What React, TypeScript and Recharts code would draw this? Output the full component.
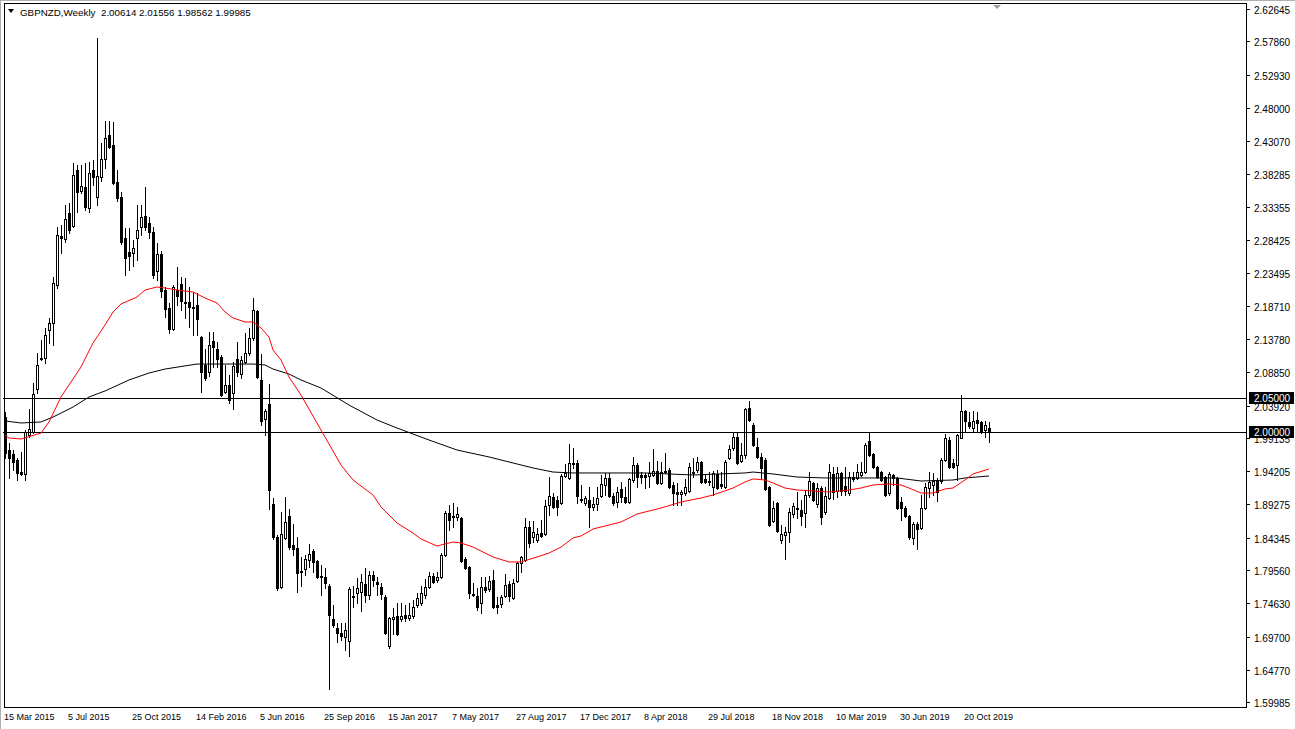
import React from 'react';
import { ComposedChart, Bar, Line, XAxis, YAxis, ReferenceLine } from 'recharts';

const FONT = "'Liberation Sans', Arial, sans-serif";

const opens = [
  2.0222,1.9734,1.9675,1.9586,1.9408,1.9379,1.9956,2.0000,2.0637,2.1081,
  2.1096,2.1511,2.1615,2.2177,2.2903,2.2859,2.3244,2.3051,2.3880,2.3569,
  2.3628,2.3318,2.3880,2.3480,2.3776,2.4043,2.4399,2.4251,2.3700,2.3480,
  2.2874,2.2666,2.2652,2.2874,2.3036,2.3199,2.3096,2.2963,2.2385,2.2637,
  2.2103,2.1837,2.1526,2.2103,2.2192,2.1925,2.1925,2.1852,2.1881,2.1407,
  2.0993,2.0889,2.1348,2.1230,2.1111,2.0593,2.0696,2.0578,2.1081,2.0859,
  2.1037,2.1170,2.1392,2.1792,2.0771,2.0193,2.0415,1.8934,1.8446,1.7706,
  1.8431,1.8756,1.8327,1.8283,1.7942,1.7972,1.8105,1.8238,1.8090,1.7868,
  1.7854,1.7721,1.7231,1.7098,1.7024,1.6965,1.6906,1.7572,1.7617,1.7632,
  1.7750,1.7587,1.7883,1.7780,1.7706,1.7557,1.6831,1.7231,1.7276,1.7231,
  1.7290,1.7246,1.7276,1.7438,1.7468,1.7587,1.7706,1.7868,1.7809,1.7854,
  1.8179,1.8801,1.8741,1.8741,1.8727,1.8120,1.8002,1.7602,1.7572,1.7468,
  1.7706,1.7676,1.7809,1.7438,1.7453,1.7572,1.7750,1.7543,1.7794,1.8061,
  1.8105,1.8594,1.8446,1.8401,1.8505,1.8490,1.8919,1.9038,1.8993,1.8949,
  1.9349,1.9320,1.9527,1.9542,1.9008,1.8949,1.8993,1.8890,1.8934,1.9053,
  1.9216,1.9320,1.9053,1.8964,1.9157,1.9038,1.8964,1.9290,1.9512,1.9364,
  1.9364,1.9349,1.9364,1.9423,1.9246,1.9408,1.9438,1.9216,1.9112,1.9082,
  1.9097,1.9127,1.9394,1.9438,1.9556,1.9305,1.9275,1.9186,1.9379,1.9231,
  1.9186,1.9616,1.9764,1.9926,1.9571,1.9660,2.0356,2.0105,1.9779,1.9631,
  1.9586,1.9186,1.8682,1.8949,1.8401,1.8475,1.8520,1.8786,1.8860,1.8845,
  1.8801,1.9068,1.9246,1.8934,1.9171,1.8816,1.9023,1.9379,1.9127,1.9394,
  1.9201,1.9097,1.9334,1.9320,1.9364,1.9408,1.9867,1.9675,1.9483,1.9408,
  1.9334,1.9097,1.9364,1.9320,1.8964,1.8875,1.8756,1.8431,1.8638,1.8579,
  1.8875,1.9171,1.9216,1.9275,1.9275,1.9586,1.9882,1.9542,1.9512,1.9911,
  2.0311,2.0149,2.0060,2.0178,2.0149,2.0030,2.00614,
];

const highs = [
  2.0296,1.9838,1.9734,1.9616,1.9704,2.0030,2.0341,2.0726,2.1170,2.1363,
  2.1541,2.1689,2.2295,2.3036,2.3066,2.3362,2.3392,2.3984,2.3954,2.3954,
  2.3984,2.3999,2.4028,2.5835,2.4280,2.4606,2.4606,2.4591,2.3880,2.3554,
  2.3021,2.3021,2.2844,2.3362,2.3362,2.3628,2.3185,2.3036,2.2800,2.2681,
  2.2148,2.1911,2.2177,2.2444,2.2295,2.2281,2.2148,2.2074,2.2059,2.1422,
  2.1230,2.1481,2.1481,2.1333,2.1141,2.0993,2.0845,2.1037,2.1333,2.1126,
  2.1467,2.1541,2.1985,2.1807,2.1156,2.0341,2.0711,1.9023,1.8475,1.8816,
  1.9038,1.8860,1.8638,1.8446,1.8150,1.8179,1.8342,1.8268,1.8105,1.8031,
  1.7987,1.7750,1.7438,1.7172,1.7172,1.7172,1.7706,1.7721,1.7839,1.7898,
  1.7987,1.7942,1.7942,1.7854,1.7765,1.7587,1.7261,1.7394,1.7468,1.7468,
  1.7438,1.7468,1.7513,1.7617,1.7721,1.7824,1.7928,1.7913,1.7928,1.8209,
  1.8830,1.8919,1.8949,1.8890,1.8741,1.8150,1.8016,1.7765,1.7691,1.7854,
  1.7854,1.7868,1.7957,1.7557,1.7587,1.7898,1.7794,1.7824,1.8076,1.8164,
  1.8727,1.8682,1.8682,1.8579,1.8697,1.8993,1.9334,1.9097,1.9053,1.9379,
  1.9527,1.9823,1.9764,1.9586,1.9216,1.9053,1.9186,1.9038,1.9186,1.9364,
  1.9394,1.9394,1.9097,1.9186,1.9260,1.9186,1.9320,1.9631,1.9542,1.9408,
  1.9394,1.9556,1.9749,1.9571,1.9556,1.9690,1.9468,1.9260,1.9246,1.9142,
  1.9305,1.9542,1.9616,1.9631,1.9571,1.9364,1.9408,1.9423,1.9438,1.9408,
  1.9586,1.9808,2.0000,2.0000,1.9838,2.0356,2.0459,2.0134,1.9911,1.9690,
  1.9616,1.9201,1.8978,1.8964,1.8623,1.8594,1.8875,1.8949,1.9112,1.8993,
  1.9142,1.9408,1.9260,1.9246,1.9201,1.9186,1.9527,1.9483,1.9483,1.9408,
  1.9483,1.9408,1.9408,1.9527,1.9556,1.9838,2.0000,1.9690,1.9497,1.9423,
  1.9349,1.9408,1.9379,1.9334,1.9038,1.8905,1.8771,1.8668,1.8668,1.9068,
  1.9246,1.9408,1.9394,1.9320,1.9616,1.9970,1.9926,1.9601,1.9970,2.0548,
  2.0326,2.0296,2.0311,2.0296,2.0164,2.0164,2.01556,
];

const lows = [
  1.9616,1.9320,1.9438,1.9290,1.9364,1.9290,1.9926,1.9985,2.0578,2.1067,
  2.1022,2.1319,2.1289,2.2133,2.2652,2.2814,2.2948,2.3036,2.3259,2.3540,
  2.3288,2.3259,2.3658,2.3362,2.3717,2.3910,2.4206,2.3673,2.3421,2.2785,
  2.2325,2.2399,2.2459,2.2548,2.2918,2.2992,2.2874,2.2281,2.2251,2.1999,
  2.1704,2.1467,2.1511,2.1881,2.1807,2.1689,2.1555,2.1437,2.1437,2.0593,
  2.0771,2.0830,2.0963,2.0963,2.0534,2.0578,2.0430,2.0341,2.0830,2.0800,
  2.1022,2.1141,2.1363,2.0800,2.0105,1.9956,1.8860,1.8416,1.7661,1.7691,
  1.8416,1.8268,1.8179,1.7632,1.7721,1.7883,1.8002,1.7928,1.7839,1.7587,
  1.7691,1.6195,1.7113,1.6891,1.6920,1.6772,1.6683,1.7409,1.7468,1.7350,
  1.7483,1.7528,1.7721,1.7587,1.7528,1.7009,1.6802,1.7009,1.6994,1.7202,
  1.7202,1.7216,1.7246,1.7409,1.7438,1.7543,1.7691,1.7765,1.7780,1.7840,
  1.8164,1.8549,1.8594,1.8697,1.8076,1.7972,1.7543,1.7572,1.7364,1.7320,
  1.7632,1.7646,1.7394,1.7320,1.7409,1.7557,1.7498,1.7528,1.7780,1.7928,
  1.8090,1.8297,1.8372,1.8372,1.8446,1.8475,1.8771,1.8875,1.8771,1.8934,
  1.9334,1.9305,1.9468,1.8949,1.8964,1.8919,1.8594,1.8845,1.8845,1.9038,
  1.9068,1.9038,1.8919,1.8890,1.8964,1.8949,1.8949,1.9260,1.9186,1.9246,
  1.9171,1.9186,1.9349,1.9231,1.9231,1.9394,1.9171,1.8919,1.8919,1.8919,
  1.9068,1.9112,1.9334,1.9408,1.9246,1.9246,1.9216,1.9068,1.9157,1.9171,
  1.9171,1.9601,1.9734,1.9527,1.9556,1.9616,2.0164,1.9793,1.9616,1.9320,
  1.9142,1.8608,1.8668,1.8520,1.8357,1.8120,1.8372,1.8741,1.8727,1.8623,
  1.8594,1.9038,1.8978,1.8890,1.8638,1.8786,1.9008,1.9008,1.9038,1.9068,
  1.9068,1.9068,1.9275,1.9305,1.9349,1.9394,1.9645,1.9468,1.9320,1.9275,
  1.9053,1.9068,1.9216,1.8860,1.8697,1.8741,1.8416,1.8342,1.8268,1.8564,
  1.8860,1.9038,1.9068,1.8978,1.9246,1.9571,1.9468,1.9468,1.9290,1.9911,
  2.0000,2.0060,2.0000,2.0000,1.9985,1.9926,1.98562,
];

const closes = [
  1.9690,1.9616,1.9556,1.9394,1.9379,2.0000,2.0044,2.0563,2.0993,2.1096,
  2.1437,2.1615,2.2207,2.2918,2.2874,2.3155,2.2992,2.3806,2.3554,2.3643,
  2.3333,2.3836,2.3776,2.3791,2.4043,2.4354,2.4221,2.3688,2.3466,2.2814,
  2.2577,2.2607,2.2726,2.2992,2.3185,2.3036,2.2963,2.2325,2.2637,2.2088,
  2.1822,2.1526,2.2148,2.2014,2.1940,2.1911,2.1852,2.1837,2.1674,2.0889,
  2.0800,2.1289,2.1259,2.1081,2.0548,2.0696,2.0474,2.0978,2.0889,2.1067,
  2.1170,2.1392,2.1807,2.0815,2.0164,2.0311,1.9142,1.8446,1.7691,1.8490,
  1.8668,1.8297,1.8268,1.7913,1.7928,1.8120,1.8194,1.8076,1.7854,1.7854,
  1.7765,1.7290,1.7142,1.7024,1.6980,1.7068,1.7676,1.7557,1.7691,1.7780,
  1.7587,1.7883,1.7809,1.7750,1.7602,1.7024,1.7246,1.7261,1.7009,1.7276,
  1.7246,1.7290,1.7409,1.7543,1.7617,1.7706,1.7868,1.7780,1.7854,1.8179,
  1.8801,1.8697,1.8756,1.8786,1.8090,1.7987,1.7617,1.7587,1.7409,1.7706,
  1.7661,1.7794,1.7409,1.7409,1.7557,1.7735,1.7572,1.7765,1.8061,1.8150,
  1.8594,1.8357,1.8520,1.8490,1.8461,1.8905,1.9053,1.8890,1.8890,1.9349,
  1.9394,1.9542,1.9542,1.9053,1.8993,1.9023,1.8890,1.8934,1.9023,1.9231,
  1.9320,1.9053,1.8949,1.9112,1.9038,1.8964,1.9305,1.9512,1.9334,1.9334,
  1.9334,1.9394,1.9423,1.9246,1.9408,1.9423,1.9186,1.9097,1.9082,1.9112,
  1.9186,1.9483,1.9408,1.9556,1.9260,1.9260,1.9260,1.9394,1.9171,1.9201,
  1.9556,1.9749,1.9926,1.9542,1.9660,2.0341,2.0178,1.9808,1.9631,1.9468,
  1.9157,1.8623,1.8875,1.8534,1.8490,1.8520,1.8816,1.8905,1.8875,1.8756,
  1.9068,1.9275,1.8993,1.9171,1.8741,1.9053,1.9408,1.9112,1.9394,1.9127,
  1.9127,1.9334,1.9305,1.9408,1.9408,1.9808,1.9660,1.9483,1.9334,1.9290,
  1.9068,1.9379,1.9320,1.8875,1.8875,1.8756,1.8446,1.8638,1.8564,1.8875,
  1.9186,1.9260,1.9275,1.9112,1.9586,1.9911,1.9483,1.9483,1.9956,2.0311,
  2.0164,2.0089,2.0164,2.0134,2.0000,2.0105,1.99985,
];

// moving average readings (bar index -> value)
const fastMaIdx = [0,1,4,9,11,14,19,22,25,27,29,33,35,38,40,43,47,50,53,55,57,60,62,64,66,67,69,71,74,79,84,87,92,94,98,102,104,108,112,114,117,119,122,126,129,133,136,139,142,144,147,154,158,164,169,174,177,182,185,187,190,192,195,198,206,211,214,217,221,224,226,229,232,235,237,240,242,246];
const fastMaVal = [1.9956,1.9911,1.9897,1.9985,2.0149,2.0519,2.0963,2.1319,2.1585,2.1778,2.1896,2.1999,2.2103,2.2148,2.2133,2.2103,2.2074,2.1985,2.1911,2.1778,2.1689,2.1630,2.1630,2.1541,2.1407,2.1215,2.1067,2.0815,2.0548,2.0030,1.9512,1.9290,1.9068,1.8890,1.8653,1.8505,1.8416,1.8312,1.8372,1.8357,1.8297,1.8238,1.8150,1.8076,1.8076,1.8150,1.8209,1.8297,1.8431,1.8461,1.8564,1.8668,1.8786,1.8875,1.8964,1.9023,1.9068,1.9171,1.9260,1.9305,1.9290,1.9246,1.9171,1.9142,1.9112,1.9142,1.9171,1.9216,1.9231,1.9216,1.9171,1.9097,1.9097,1.9157,1.9171,1.9290,1.9379,1.9453];

const slowMaIdx = [0,4,9,12,17,21,25,31,36,40,48,53,62,65,67,71,74,79,86,93,98,106,113,121,127,132,137,142,148,160,172,185,187,192,198,205,217,223,229,237,240,246];
const slowMaVal = [2.0164,2.0134,2.0149,2.0222,2.0370,2.0519,2.0608,2.0771,2.0874,2.0933,2.1007,2.1007,2.1007,2.0993,2.0933,2.0859,2.0771,2.0652,2.0400,2.0178,2.0060,1.9882,1.9734,1.9631,1.9542,1.9468,1.9408,1.9394,1.9394,1.9394,1.9364,1.9394,1.9408,1.9379,1.9334,1.9320,1.9320,1.9320,1.9275,1.9290,1.9320,1.9349];

const dateTickIdx = [0,16,32,48,64,80,96,112,128,144,160,176,192,208,224,240];
const dateTickLabels = ['15 Mar 2015','5 Jul 2015','25 Oct 2015','14 Feb 2016','5 Jun 2016','25 Sep 2016','15 Jan 2017','7 May 2017','27 Aug 2017','17 Dec 2017','8 Apr 2018','29 Jul 2018','18 Nov 2018','10 Mar 2019','30 Jun 2019','20 Oct 2019'];

const priceTicks = [2.62645,2.5786,2.5293,2.48,2.4307,2.38285,2.33355,2.28425,2.23495,2.1871,2.1378,2.0885,2.0392,1.99135,1.94205,1.89275,1.84345,1.7956,1.7463,1.697,1.6477,1.59985];
const levels = [2.05, 2.0];
const TOTAL_SLOTS = 310;
const Y_DOMAIN: [number, number] = [1.59135, 2.63534];

const data: any[] = Array.from({ length: TOTAL_SLOTS }, (_, i) => {
  const row: any = { i };
  if (i < opens.length) {
    row.o = opens[i];
    row.h = highs[i];
    row.l = lows[i];
    row.c = closes[i];
    row.range = [lows[i], highs[i]];
  }
  return row;
});
fastMaIdx.forEach((idx, k) => { data[idx].maFast = fastMaVal[k]; });
slowMaIdx.forEach((idx, k) => { data[idx].maSlow = slowMaVal[k]; });

const Candle = (props: any) => {
  const { x, y, width, height, payload } = props;
  if (!payload || payload.o == null || !isFinite(y) || !isFinite(height)) return null;
  const { o, h, l, c } = payload;
  const cx = Math.floor(x + width / 2);
  const k = h - l > 0 ? height / (h - l) : 0;
  const yOf = (v: number) => y + (h - v) * k;
  const top = Math.round(yOf(Math.max(o, c)));
  const bot = Math.round(yOf(Math.min(o, c)));
  const yh = Math.round(y);
  const yl = Math.round(y + height);
  const bull = c >= o;
  return (
    <g shapeRendering="crispEdges">
      <rect x={cx} y={yh} width={1} height={Math.max(yl - yh + 1, 1)} fill="#000" />
      {bot - top < 1 ? (
        <rect x={cx - 1} y={top} width={3} height={1} fill="#000" />
      ) : bull ? (
        <rect x={cx - 0.5} y={top + 0.5} width={2} height={bot - top} fill="#fff" stroke="#000" strokeWidth={1} />
      ) : (
        <rect x={cx - 1} y={top} width={3} height={bot - top + 1} fill="#000" />
      )}
    </g>
  );
};

const YTick = (props: any) => {
  const { x, y, payload } = props;
  const v = Number(payload.value);
  const label = v.toFixed(5);
  const yy = Math.round(y);
  if (levels.includes(v)) {
    return (
      <g>
        <rect x={x + 3} y={yy - 6} width={45} height={12} fill="#000" />
        <text x={x + 8} y={yy + 4} fill="#fff" fontSize={10} fontFamily={FONT}>{label}</text>
      </g>
    );
  }
  return (
    <g>
      <rect x={x + 1} y={yy} width={3} height={1} fill="#000" />
      <text x={x + 8} y={yy + 5} fill="#000" fontSize={10} fontFamily={FONT}>{label}</text>
    </g>
  );
};

const XTick = (props: any) => {
  const { x, y, payload } = props;
  const k = dateTickIdx.indexOf(Number(payload.value));
  if (k < 0) return null;
  const cx = Math.floor(x);
  return (
    <g>
      <text x={cx - 1} y={y + 12} fill="#000" fontSize={9} fontFamily={FONT}>{dateTickLabels[k]}</text>
    </g>
  );
};

export default function App() {
  return (
    <div style={{ position: 'relative', width: 1295, height: 729, background: '#fff', overflow: 'hidden' }}>
      <style>{'body{margin:0;}'}</style>
      <ComposedChart width={1295} height={729} data={data} margin={{ top: 3, right: 0, bottom: 0, left: 3 }}>
        <XAxis
          dataKey="i"
          type="category"
          ticks={dateTickIdx}
          interval={0}
          tick={<XTick />}
          tickLine={false}
          axisLine={false}
          tickSize={0}
          tickMargin={0}
          height={21}
          padding={{ left: 0, right: 3 }}
        />
        <YAxis
          orientation="right"
          type="number"
          domain={Y_DOMAIN}
          allowDataOverflow
          ticks={[...priceTicks, ...levels]}
          interval={0}
          tick={<YTick />}
          tickLine={false}
          axisLine={false}
          tickSize={0}
          tickMargin={0}
          width={49}
        />
        {levels.map((lv) => (
          <ReferenceLine key={lv} y={lv} stroke="#000" strokeWidth={1} shapeRendering="crispEdges" ifOverflow="extendDomain" />
        ))}
        <Line dataKey="maSlow" stroke="#000" strokeWidth={1} dot={false} activeDot={false} connectNulls isAnimationActive={false} />
        <Line dataKey="maFast" stroke="#ff0000" strokeWidth={1} dot={false} activeDot={false} connectNulls isAnimationActive={false} />
        <Bar dataKey="range" barSize={3} isAnimationActive={false} shape={(p: any) => <Candle {...p} />} />
      </ComposedChart>
      <svg width={1295} height={729} style={{ position: 'absolute', left: 0, top: 0, pointerEvents: 'none' }}>
        <rect x={0} y={0} width={1295} height={1} fill="#b0b0b0" />
        <rect x={0} y={0} width={1} height={729} fill="#b0b0b0" />
        <rect x={4.5} y={3.5} width={1242} height={704} fill="none" stroke="#000" strokeWidth={1} shapeRendering="crispEdges" />
        <polygon points="8,9 14,9 11,13" fill="#000" />
        <text x={20} y={16} fontSize={9.8} fontFamily={FONT} fill="#000" style={{ whiteSpace: 'pre' }}>GBPNZD,Weekly  2.00614 2.01556 1.98562 1.99985</text>
        <polygon points="993,5 1001,5 997,9" fill="#a0a0a0" />
      </svg>
    </div>
  );
}
